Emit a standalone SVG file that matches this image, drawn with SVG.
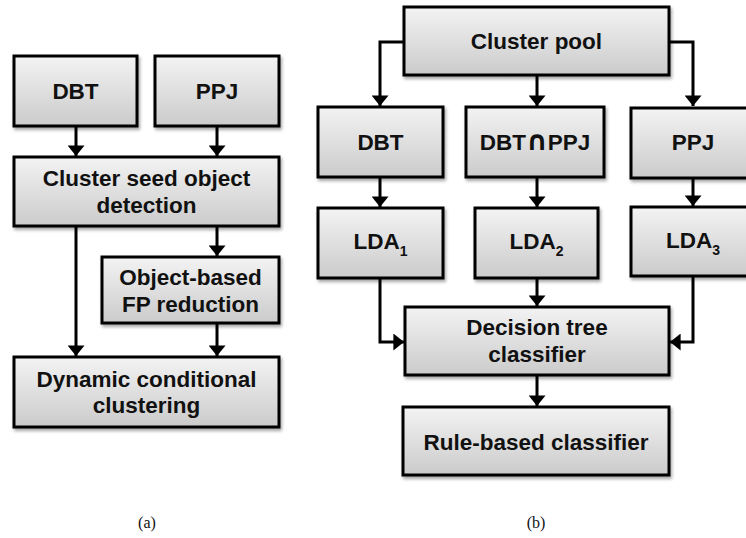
<svg xmlns="http://www.w3.org/2000/svg" width="746" height="538" viewBox="0 0 746 538">
<defs>
<linearGradient id="g" x1="0" y1="0" x2="0" y2="1">
<stop offset="0" stop-color="#f3f3f3"/>
<stop offset="1" stop-color="#cbcbcb"/>
</linearGradient>
<filter id="sh" x="-10%" y="-10%" width="125%" height="130%">
<feDropShadow dx="1.5" dy="2.5" stdDeviation="1.5" flood-color="#000" flood-opacity="0.35"/>
</filter>
<marker id="ah" viewBox="0 0 10 16" refX="10" refY="8" markerWidth="11" markerHeight="17" markerUnits="userSpaceOnUse" orient="auto">
<path d="M0,0 L10,8 L0,16 z" fill="#000"/>
</marker>
</defs>
<style>
.box{fill:url(#g);stroke:#000;stroke-width:3;filter:url(#sh)}
.t{font-family:"Liberation Sans",Arial,sans-serif;font-weight:bold;font-size:22.5px;fill:#111;text-anchor:middle}
.sub{font-size:14px}
.cup{font-family:"DejaVu Sans",sans-serif;font-weight:bold;font-size:27px}
.c{fill:none;stroke:#000;stroke-width:3;marker-end:url(#ah)}
.cap{font-family:"Liberation Serif","Times New Roman",serif;font-size:16px;fill:#111;text-anchor:middle}
</style>
<rect width="746" height="538" fill="#fff"/>
<g id="connectors">
<path class="c" d="M76,126 V156"/>
<path class="c" d="M217,126 V156"/>
<path class="c" d="M76,226 V356"/>
<path class="c" d="M217,226 V256"/>
<path class="c" d="M217,323 V356"/>
<path class="c" d="M404,42 H380 V106"/>
<path class="c" d="M537,75 V106"/>
<path class="c" d="M669,42 H693 V106"/>
<path class="c" d="M380,177 V207"/>
<path class="c" d="M537,177 V207"/>
<path class="c" d="M693,178 V206"/>
<path class="c" d="M380,278 V342 H404"/>
<path class="c" d="M537,278 V306"/>
<path class="c" d="M693,276 V342 H670"/>
<path class="c" d="M537,375 V406"/>
</g>
<g id="a-dbt"><rect class="box" x="14" y="56" width="123" height="70"/><text class="t" x="75.5" y="99">DBT</text></g>
<g id="a-ppj"><rect class="box" x="155" y="56" width="124" height="70"/><text class="t" x="217" y="99">PPJ</text></g>
<g id="a-seed"><rect class="box" x="14" y="157" width="265" height="69"/><text class="t" x="146.5" y="186">Cluster seed object</text><text class="t" x="146.5" y="213">detection</text></g>
<g id="a-fp"><rect class="box" x="102" y="257" width="177" height="66"/><text class="t" x="190.5" y="285">Object-based</text><text class="t" x="190.5" y="312">FP reduction</text></g>
<g id="a-dyn"><rect class="box" x="14" y="357" width="265" height="70"/><text class="t" x="146.5" y="387">Dynamic conditional</text><text class="t" x="146.5" y="413">clustering</text></g>
<g id="b-pool"><rect class="box" x="404" y="7" width="265" height="68"/><text class="t" x="536.5" y="49">Cluster pool</text></g>
<g id="b-dbt"><rect class="box" x="318" y="107" width="125" height="70"/><text class="t" x="380.5" y="150">DBT</text></g>
<g id="b-and"><rect class="box" x="466" y="107" width="138" height="70"/><text class="t" x="535" y="150">DBT<tspan class="cup">∩</tspan>PPJ</text></g>
<g id="b-ppj"><rect class="box" x="631" y="108" width="124" height="70"/><text class="t" x="693" y="150">PPJ</text></g>
<g id="b-lda1"><rect class="box" x="318" y="208" width="125" height="70"/><text class="t" x="380.5" y="249">LDA<tspan class="sub" dy="7">1</tspan></text></g>
<g id="b-lda2"><rect class="box" x="475" y="208" width="123" height="70"/><text class="t" x="536.5" y="249">LDA<tspan class="sub" dy="7">2</tspan></text></g>
<g id="b-lda3"><rect class="box" x="631" y="207" width="124" height="69"/><text class="t" x="693" y="248">LDA<tspan class="sub" dy="7">3</tspan></text></g>
<g id="b-dt"><rect class="box" x="405" y="307" width="264" height="68"/><text class="t" x="537" y="335">Decision tree</text><text class="t" x="537" y="362">classifier</text></g>
<g id="b-rule"><rect class="box" x="403" y="407" width="266" height="68"/><text class="t" x="536" y="450">Rule-based classifier</text></g>
<text class="cap" x="147" y="528">(a)</text>
<text class="cap" x="536" y="528">(b)</text>
</svg>
